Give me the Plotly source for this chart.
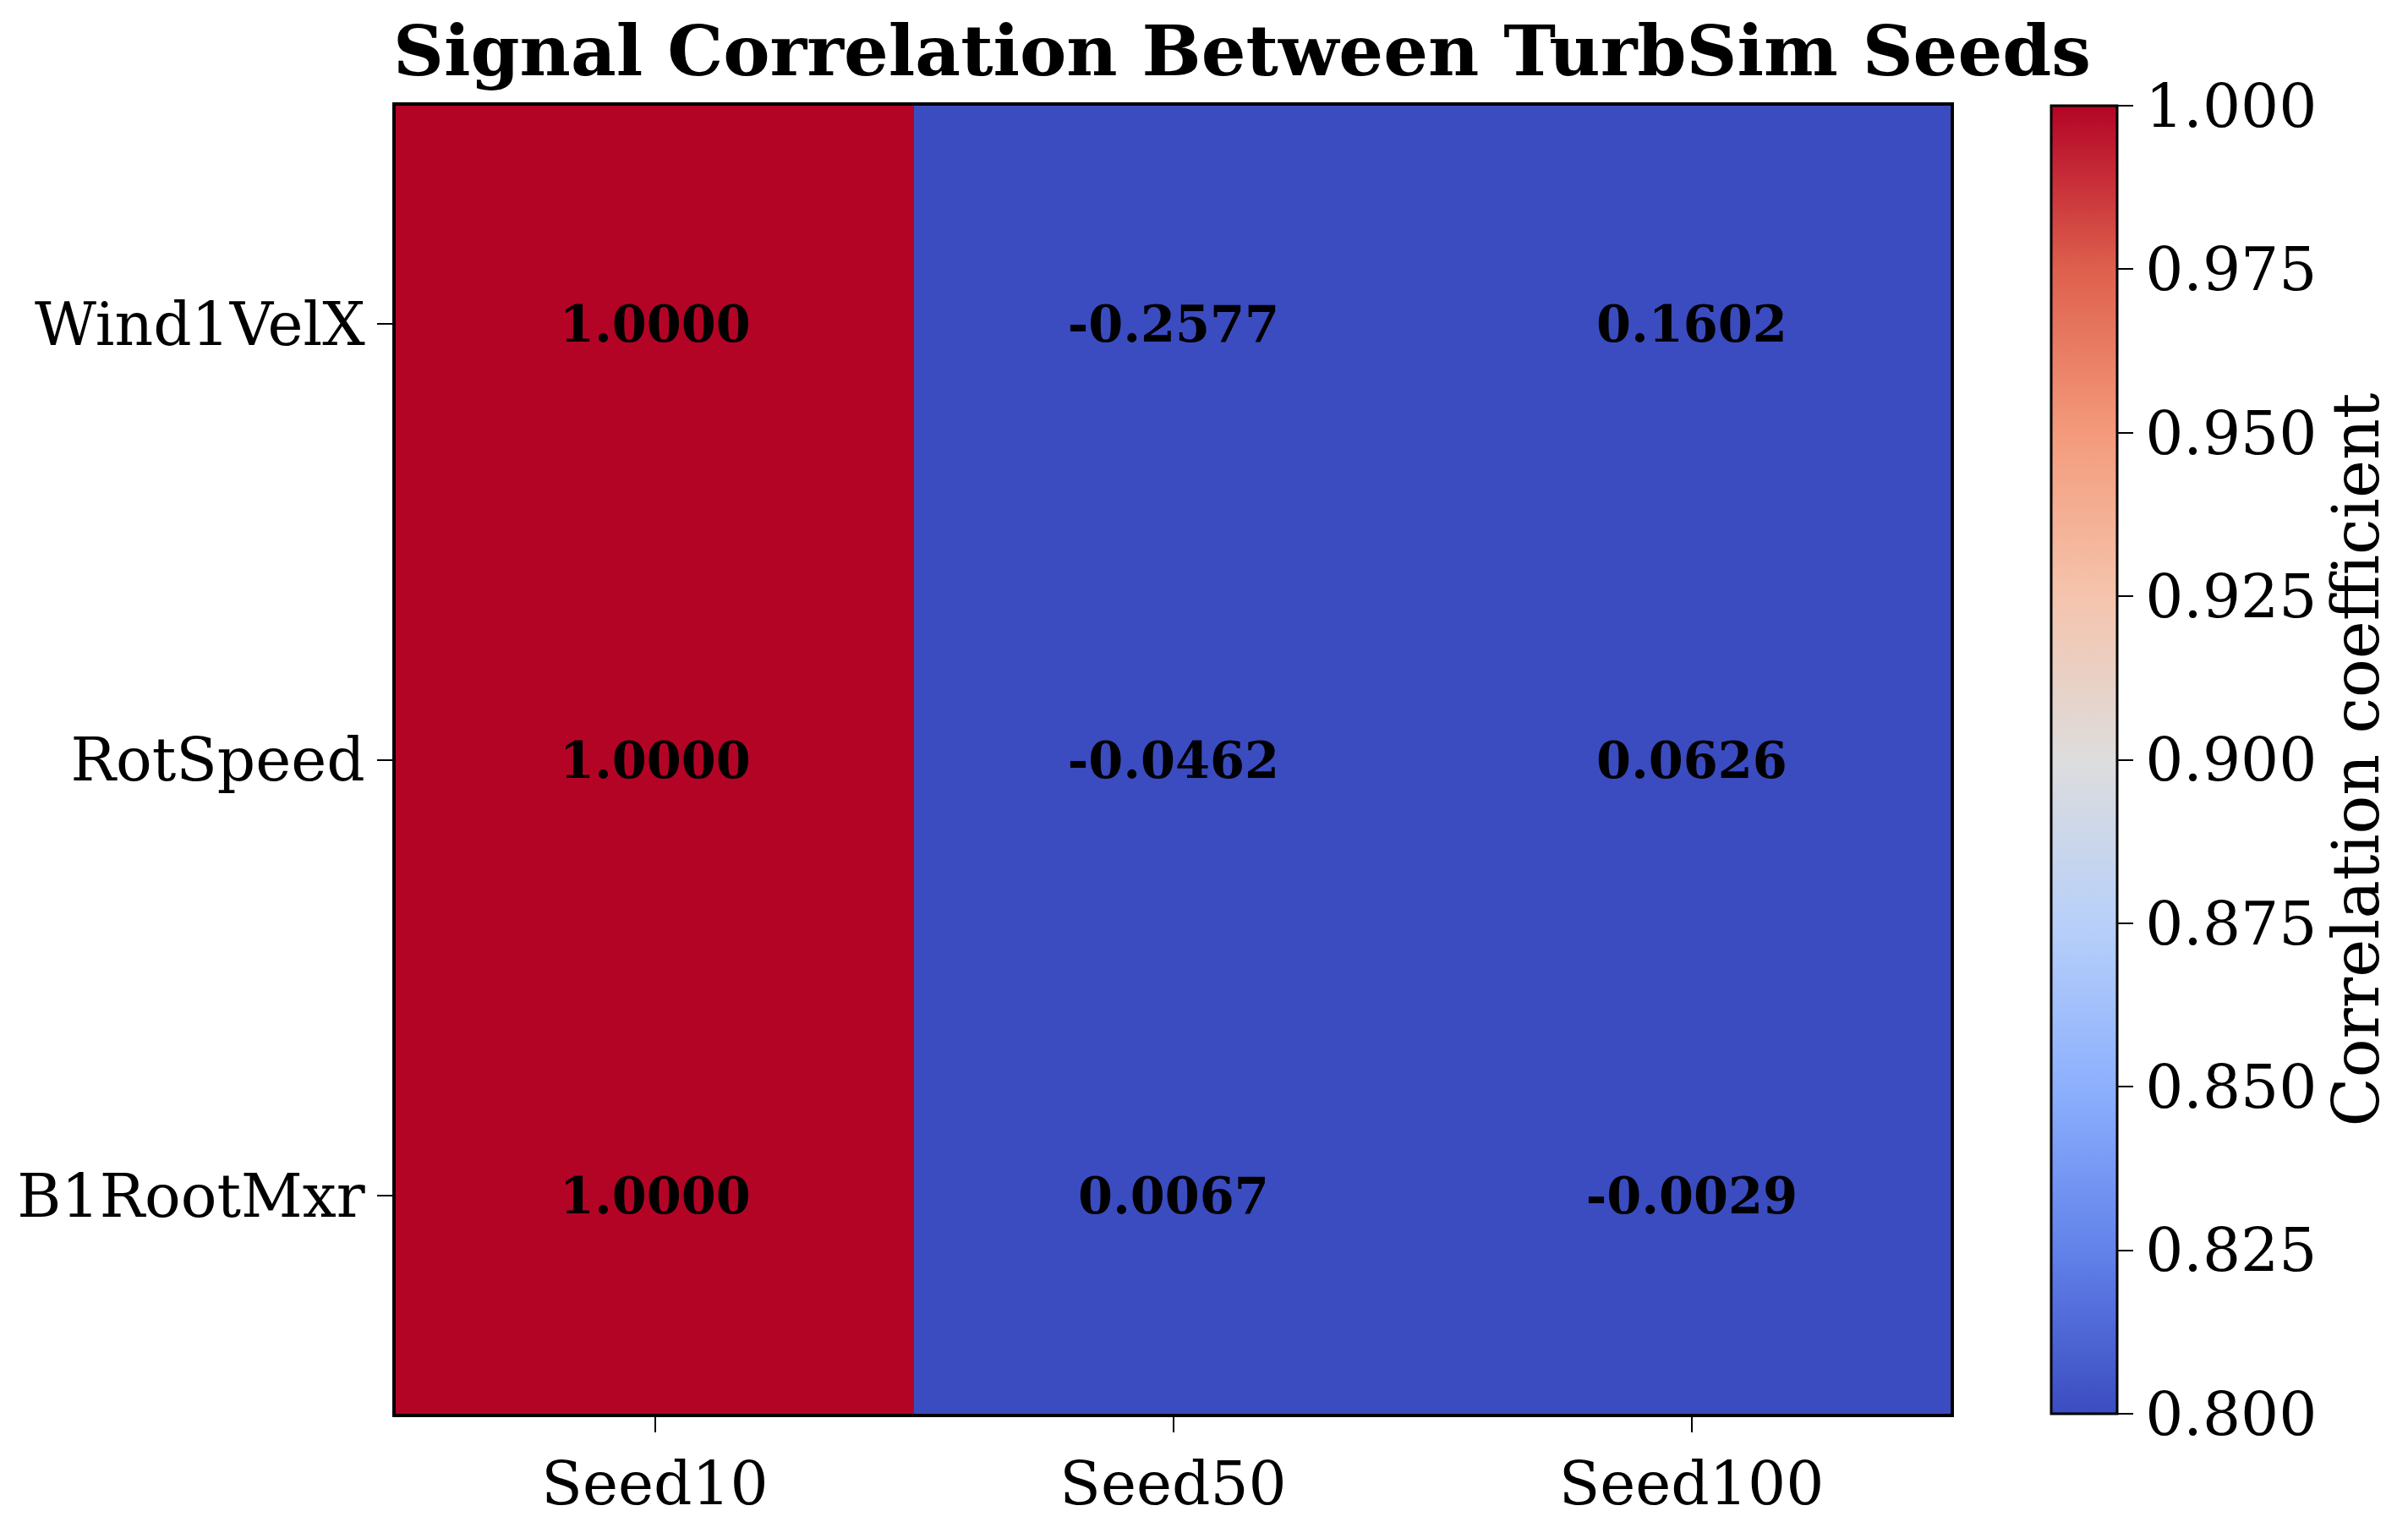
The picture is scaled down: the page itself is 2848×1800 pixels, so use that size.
import plotly.graph_objects as go

seeds = ["Seed10", "Seed50", "Seed100"]
signals = ["Wind1VelX", "RotSpeed", "B1RootMxr"]
corr = [
    [1.0000, -0.2577, 0.1602],
    [1.0000, -0.0462, 0.0626],
    [1.0000, 0.0067, -0.0029],
]
cbar_ticks = [0.800, 0.825, 0.850, 0.875, 0.900, 0.925, 0.950, 0.975, 1.000]

# matplotlib coolwarm, sampled
coolwarm = [
    [0.000, "rgb(59,76,192)"],
    [0.125, "rgb(98,130,234)"],
    [0.250, "rgb(141,176,254)"],
    [0.375, "rgb(184,208,249)"],
    [0.500, "rgb(221,221,221)"],
    [0.625, "rgb(245,196,173)"],
    [0.750, "rgb(244,154,123)"],
    [0.875, "rgb(222,96,77)"],
    [1.000, "rgb(180,4,38)"],
]

serif = "DejaVu Serif"
tick_font = dict(family=serif, size=71, color="black")

fig = go.Figure()
fig.add_trace(
    go.Heatmap(
        x=seeds,
        y=signals,
        z=corr,
        zmin=0.8,
        zmax=1.0,
        colorscale=coolwarm,
        texttemplate="%{z:.4f}",
        textfont=dict(family=serif, size=59, color="black", weight="bold"),
        hoverinfo="none",
        colorbar=dict(
            x=1.0647,
            xanchor="left",
            xpad=0,
            y=0.5,
            len=1,
            ypad=0,
            thickness=78,
            outlinecolor="black",
            outlinewidth=3,
            tickvals=cbar_ticks,
            ticktext=["%.3f" % t for t in cbar_ticks],
            ticks="outside",
            ticklen=18,
            tickwidth=2,
            tickcolor="black",
            tickfont=tick_font,
            title=dict(
                text="Correlation coefficient",
                side="right",
                font=dict(family=serif, size=76, color="black"),
            ),
        ),
    )
)

fig.update_layout(
    width=2848,
    height=1800,
    margin=dict(l=458, r=549, t=117, b=130),
    paper_bgcolor="white",
    plot_bgcolor="white",
    title=dict(
        text="Signal Correlation Between TurbSim Seeds",
        x=0.513,
        xref="container",
        xanchor="center",
        y=1 - 52 / 1800,
        yref="container",
        yanchor="middle",
        font=dict(family=serif, size=83, color="black", weight="bold"),
    ),
)

axis_style = dict(
    showline=True,
    linecolor="black",
    linewidth=4,
    mirror=True,
    ticks="outside",
    ticklen=18,
    tickwidth=2,
    tickcolor="black",
    tickfont=tick_font,
    showgrid=False,
    zeroline=False,
)
fig.update_xaxes(**axis_style)
fig.update_yaxes(autorange="reversed", **axis_style)

fig.write_html("out.html")
